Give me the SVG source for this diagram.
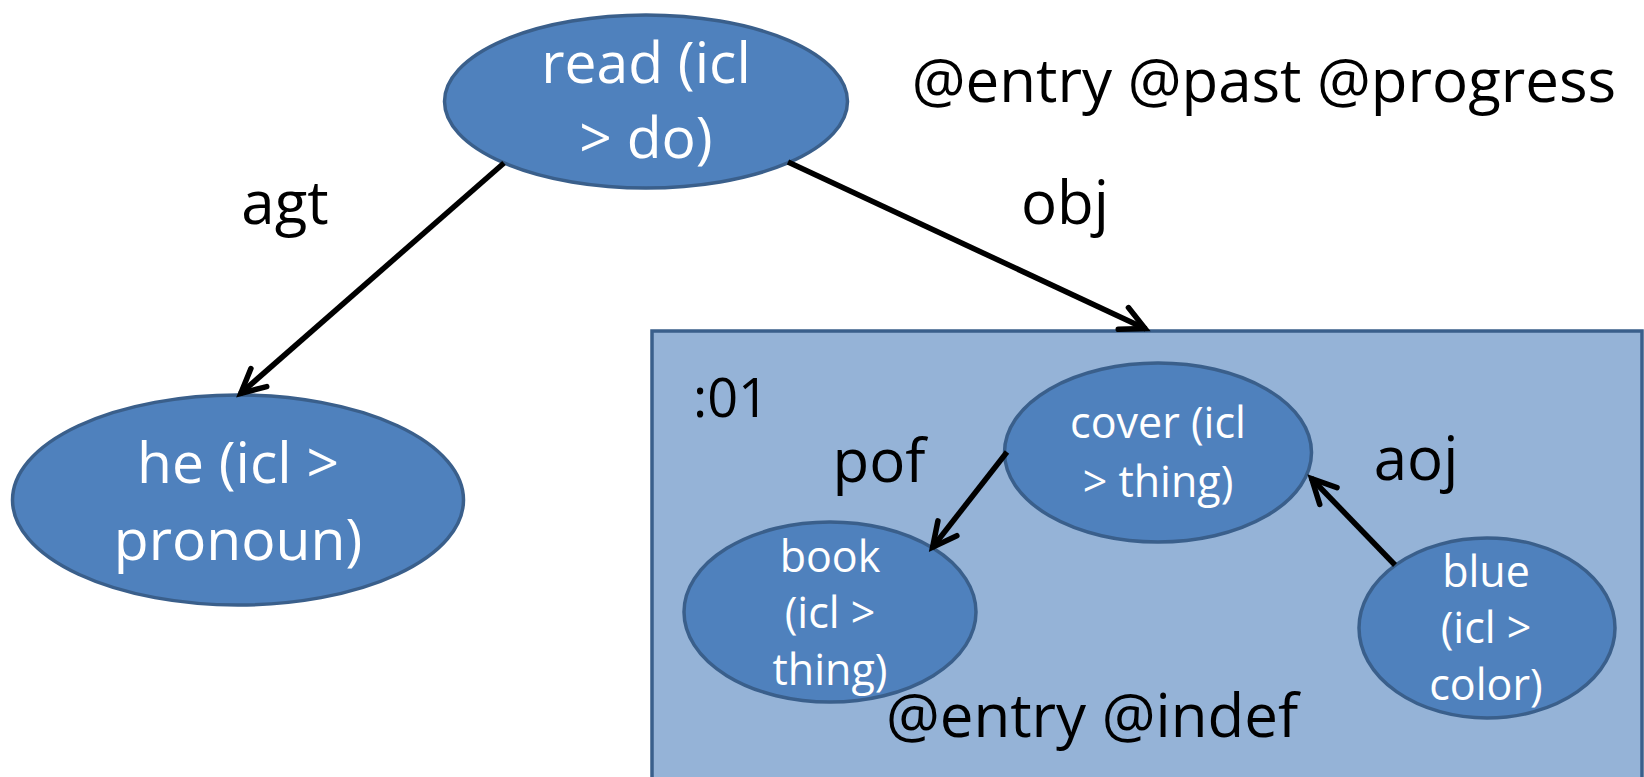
<svg xmlns="http://www.w3.org/2000/svg" width="1644" height="777" viewBox="0 0 1644 777">
<style>
.node{fill:#4F81BD;stroke:#3A5F8B;stroke-width:3.5}
.box{fill:#95B3D7;stroke:#3A5F8B;stroke-width:3.5}
.nt{fill:#FFFFFF;font-family:"Open Sans","Liberation Sans",sans-serif;text-anchor:middle}
.big{font-size:57px}
.small{font-size:43px}
.lbl{fill:#000000;font-family:"Open Sans","Liberation Sans",sans-serif;font-size:60px;text-anchor:middle}
.edge{stroke:#000000;stroke-width:5.5;fill:none;marker-end:url(#arr)}
</style>
<defs>
<marker id="arr" markerUnits="userSpaceOnUse" markerWidth="60" markerHeight="60" viewBox="-30 -30 60 60" refX="1" refY="0" orient="auto" overflow="visible">
<path d="M-24,-12 L0,0 L-24,12" fill="none" stroke="#000000" stroke-width="5.5" stroke-linecap="round"/>
</marker>
</defs>
<rect id="frame" class="box" x="652" y="331" width="990" height="470"/>
<g id="read">
<ellipse class="node" cx="646" cy="101.5" rx="201.5" ry="86.5"/>
<text class="nt big" x="646"><tspan x="646" y="83">read (icl</tspan><tspan x="646" y="158">&gt; do)</tspan></text>
</g>
<g id="he">
<ellipse class="node" cx="238" cy="500" rx="225.5" ry="105"/>
<text class="nt big" x="238"><tspan x="238" y="483">he (icl &gt;</tspan><tspan x="238" y="560">pronoun)</tspan></text>
</g>
<g id="cover">
<ellipse class="node" cx="1158" cy="452.5" rx="153.5" ry="89.5"/>
<text class="nt small" x="1158"><tspan x="1158" y="438">cover (icl</tspan><tspan x="1158" y="497">&gt; thing)</tspan></text>
</g>
<g id="book">
<ellipse class="node" cx="830" cy="612" rx="146" ry="90"/>
<text class="nt small" x="830"><tspan x="830" y="572">book</tspan><tspan x="830" y="628">(icl &gt;</tspan><tspan x="830" y="685">thing)</tspan></text>
</g>
<g id="blue">
<ellipse class="node" cx="1487" cy="628" rx="128" ry="90"/>
<text class="nt small" x="1486"><tspan x="1486" y="587">blue</tspan><tspan x="1486" y="643">(icl &gt;</tspan><tspan x="1486" y="700">color)</tspan></text>
</g>
<g id="connectors">
<line class="edge" x1="504" y1="163" x2="240" y2="394"/>
<line class="edge" x1="788" y1="162" x2="1146" y2="329"/>
<line class="edge" x1="1007" y1="452" x2="932" y2="548"/>
<line class="edge" x1="1395" y1="565" x2="1311" y2="478"/>
</g>
<g id="labels">
<text class="lbl" x="285" y="224">agt</text>
<text class="lbl" x="1065" y="224">obj</text>
<text class="lbl" x="879" y="482">pof</text>
<text class="lbl" x="1416" y="480">aoj</text>
<text class="lbl" x="693" y="417" style="text-anchor:start;font-size:54px">:01</text>
<text class="lbl" x="1264" y="102">@entry @past @progress</text>
<text class="lbl" x="1092" y="737">@entry @indef</text>
</g>
</svg>
